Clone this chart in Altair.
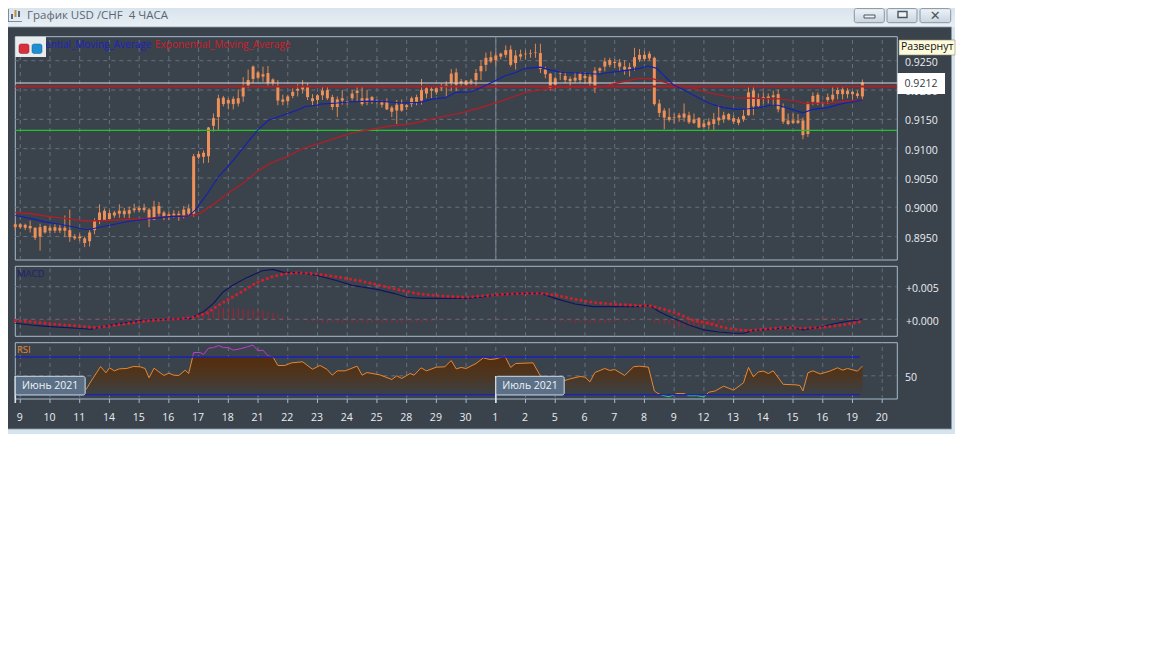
import altair as alt
import pandas as pd

# ---------- data ----------
# candles, prices in 0.0001 units
candle_high = [8973,8973,8972,8977,8966,8972,8969,8968,8971,8971,
 8986,8996,8954,8955,8950,8961,8981,9005,8998,8995,
 8994,9005,8999,9001,9006,9003,9006,8999,9011,9009,
 8994,8992,8995,8994,9002,9005,9091,9096,9097,9137,
 9160,9192,9190,9186,9189,9201,9222,9235,9242,9233,
 9240,9241,9220,9217,9192,9192,9203,9210,9217,9212,9193,9193,
 9206,9206,9192,9189,9200,9182,9200,9205,9205,9200,
 9190,9184,9182,9186,9173,9183,9184,9176,9189,9192,
 9219,9207,9205,9206,9211,9215,9236,9237,9219,9217,
 9219,9236,9251,9264,9266,9264,9264,9276,9276,9268,
 9269,9268,9269,9279,9279,9240,9229,9223,
 9232,9230,9223,9230,9230,9230,9229,9239,9239,9255,
 9255,9253,9253,9251,9246,9272,9270,
 9266,9266,9257,9184,9169,9169,9160,9161,9177,9163,
 9160,9154,9149,9152,9161,9174,9163,9161,9157,9154,
 9166,9205,9205,9194,9196,9194,9199,9201,9177,9160,
 9160,9159,9153,9180,9196,9196,9180,9194,9205,9205,
 9205,9203,9199,9199,9218]
candle_top = [8971,8971,8970,8968,8965,8966,8968,8965,8966,8965,
 8965,8961,8950,8950,8947,8957,8977,8991,8994,8990,
 8991,8994,8994,8995,8998,8999,8999,8996,9001,9002,
 8991,8988,8989,8989,8996,8998,9087,9091,9093,9136,
 9152,9186,9187,9183,9185,9186,9205,9217,9240,9230,
 9227,9229,9218,9206,9184,9189,9197,9202,9207,9207,9186,9191,
 9199,9200,9188,9184,9186,9181,9194,9199,9186,9186,
 9188,9182,9179,9179,9170,9175,9176,9174,9186,9188,
 9200,9203,9202,9203,9205,9209,9228,9230,9215,9216,
 9216,9229,9241,9255,9256,9259,9262,9268,9269,9259,
 9261,9262,9263,9264,9263,9235,9228,9220,
 9229,9224,9219,9221,9228,9224,9223,9233,9237,9249,
 9251,9248,9247,9240,9239,9256,9260,
 9260,9262,9255,9177,9165,9154,9154,9157,9160,9157,
 9150,9152,9143,9146,9150,9153,9157,9159,9152,9150,
 9156,9196,9199,9186,9188,9189,9191,9193,9170,9148,
 9148,9148,9148,9177,9190,9192,9178,9188,9192,9200,
 9201,9199,9197,9194,9213]
candle_bot = [8966,8966,8965,8964,8948,8950,8957,8960,8960,8960,
 8960,8949,8947,8947,8939,8942,8961,8978,8978,8980,
 8986,8989,8988,8989,8995,8995,8995,8978,8979,8989,
 8984,8984,8986,8986,8984,8989,8989,9085,9086,9087,
 9139,9154,9176,9177,9176,9177,9189,9207,9219,9221,
 9223,9212,9212,9182,9180,9181,9190,9199,9201,9188,9181,9183,
 9191,9186,9171,9171,9182,9179,9186,9195,9176,9179,
 9180,9180,9175,9167,9163,9165,9165,9171,9176,9180,
 9182,9194,9199,9196,9203,9206,9212,9209,9211,9209,
 9213,9217,9232,9243,9249,9251,9257,9260,9243,9246,
 9257,9261,9262,9263,9236,9227,9202,9209,
 9228,9217,9215,9216,9217,9220,9212,9203,9233,9240,
 9243,9246,9240,9235,9235,9240,9252,
 9253,9254,9176,9161,9153,9149,9153,9153,9153,9145,
 9144,9136,9137,9140,9142,9148,9150,9150,9146,9144,
 9150,9157,9172,9173,9186,9186,9188,9167,9146,9142,
 9144,9144,9123,9125,9180,9178,9177,9183,9184,9193,
 9193,9193,9193,9190,9189]
candle_low = [8961,8963,8961,8957,8944,8926,8955,8956,8956,8956,
 8949,8941,8944,8942,8932,8933,8954,8971,8977,8978,
 8982,8982,8982,8981,8991,8991,8991,8966,8978,8984,
 8978,8978,8982,8977,8981,8984,8984,9082,9075,9076,
 9129,9132,9172,9167,9167,9172,9180,9203,9212,9218,
 9214,9207,9207,9174,9174,9175,9186,9189,9194,9183,9174,9176,
 9183,9183,9166,9154,9175,9175,9182,9180,9173,9174,
 9176,9176,9170,9166,9154,9142,9163,9166,9171,9174,
 9175,9186,9186,9192,9198,9189,9198,9198,9205,9206,
 9209,9207,9217,9232,9246,9243,9252,9255,9240,9235,
 9252,9252,9255,9255,9229,9220,9199,9202,
 9217,9212,9202,9212,9212,9211,9205,9195,9229,9232,
 9239,9237,9232,9226,9223,9233,9248,
 9249,9250,9173,9154,9133,9146,9143,9146,9146,9142,
 9142,9135,9135,9133,9132,9140,9144,9148,9142,9140,
 9146,9156,9157,9170,9176,9177,9173,9162,9142,9140,
 9142,9142,9116,9120,9174,9174,9172,9176,9180,9184,
 9184,9186,9184,9186,9184]

ema_blue_i = [0,3,6,9,12,14,15,17,20,23,26,28,31,35,36.3,38.6,41,44,47,49,51,54,57,58.5,61,
 61.5,65,68,71.6,75,78,81.7,84,86.8,89,92,94.5,96.5,98.8,101,103,106,108,110.6,114,118,119,121,123.8,126,
 127.8,129.5,130.8,132.8,135,137.6,140.2,143,145.6,148,150.3,152.4,154,156,159,161,164,166.5,169,171]
ema_blue_v = [8986,8981,8975,8971,8966,8962,8962,8966,8971,8976,8979,8981,8984,8985,8995,9021,9052,9080,9112,9132,9148,9157,9166,9172,9174,
 9176,9178,9180,9181,9180,9178,9179,9184,9187,9196,9197,9206,9214,9224,9230,9237,9239,9234,9230,9229,9227,9229,9231,9234,9237,
 9241,9237,9226,9209,9200,9188,9177,9170,9167,9168,9170,9174,9174,9169,9161,9167,9170,9176,9180,9183]
ema_red_i = [0,3.3,6,10,13.7,17,24,26.5,30.6,35,37.2,40,43.3,46,48.7,51.4,54.8,58,61,
 61.5,65,68,72,76,79.7,85,90,93.5,97,100,103,107.3,110,115,119,121.4,126,
 128.8,130.8,132.8,136,139.6,145,149,154.4,157.8,159.4,163,166.5,171]
ema_red_v = [8991,8989,8985,8981,8977,8977,8980,8981,8984,8985,8989,9005,9026,9041,9060,9075,9086,9100,9108,
 9109,9119,9127,9133,9139,9142,9152,9161,9169,9178,9187,9196,9202,9205,9205,9206,9212,9220,
 9219,9214,9209,9205,9196,9187,9186,9185,9181,9177,9178,9180,9183]

macd_i = [0,3.6,7,11.7,15.4,17,20.5,24,26,30.5,35.3,38,40,42,44,46.8,49.9,52,54,57.5,61,
 65,68,73,76.4,79,82,87,91,94,97,102,106,109,113,116.6,122.5,126,
 128,130,132.8,136,139,142,145,147,149,153,156.4,159,163,165.8,168,170.5,171]
macd_v = [-.61,-.92,-1.12,-1.33,-1.53,-1.22,-.71,-.36,-.10,0,.10,1.17,2.45,4.23,5.25,6.43,7.45,7.65,7.24,7.14,6.73,
 5.92,5.2,4.59,3.98,3.37,3.21,3.21,3.21,3.37,3.72,3.98,3.98,3.21,2.35,1.94,1.94,1.94,
 2.14,1.17,.15,-.87,-1.63,-1.94,-2.14,-2.14,-1.73,-1.48,-1.22,-1.63,-1.12,-.61,-.31,-.10,.10]
signal_i = [0,3.6,7,11.7,16,19,24,27,33,36,38.6,40.6,42.6,45.4,48.7,51.4,54,57,61,
 65.5,69.5,73.6,77.6,81.7,86,91,95,98.5,103,106,109.3,113,117,121,126,
 128,131,133.5,137,140,143,146,148,151,155,159,162.4,166.5,169,171]
signal_v = [-.2,-.41,-.71,-.97,-1.28,-1.02,-.51,-.2,.05,.31,.92,1.94,2.86,4.08,5.61,6.43,6.94,7.14,6.94,
 6.43,5.92,5.2,4.49,3.88,3.57,3.37,3.62,3.83,3.98,3.98,3.67,3.06,2.55,2.3,2.09,
 2.09,1.53,.92,-.2,-.61,-1.28,-1.63,-1.73,-1.53,-1.28,-1.38,-1.28,-.92,-.61,-.31]
hist_v = [-.2,-.3,-.3,-.3,-.2,-.3,-.3,-.2,-.3,-.3,-.2,-.3,-.3,-.2,-.2,-.2,
 .1,.2,.2,.3,.3,.2,.3,.2,.2,.2,.2,.1,.1,.1,.1,.1,.1,.1,
 .1,.1,.2,
 .3,.6,1.2,1.4,1.7,1.8,1.8,1.7,1.7,1.6,1.6,1.5,1.5,1.4,1.1,1.0,.7,.5,
 .1,-.1,-.1,-.2,-.3,-.3,
 -.4,-.5,-.5,-.4,-.5,-.5,-.4,-.5,-.5,-.4,-.5,-.5,-.4,-.5,-.5,-.4,-.5,-.5,-.4,-.4,-.4,-.4,-.3,-.3,-.2,
 -.1,-.1,-.1,-.1,-.1,-.1,0,.1,0,0,.1,.1,.1,0,.1,.1,0,0,
 -.1,-.1,-.1,-.1,-.2,-.2,-.3,-.3,
 -.4,-.5,-.5,-.5,-.5,-.5,-.5,-.5,-.4,-.4,-.3,-.3,-.2,-.1,
 -.1,-.1,-.2,
 -.5,-.6,-.7,-.9,-1.1,-1.2,-1.2,-1.1,-1.1,-1.1,-1.0,-1.0,-.9,-.7,-.5,-.4,-.3,-.2,
 -.1,0,0,.1,.1,.1,.1,.2,.1,.2,.1,.1,.1,
 .1,.2,.2,.3,.3,.3,.3,.3,.3,.3,.2,.2]

rsi_i = [14.3,15.2,16.4,17.2,18.3,19,20,21,22.5,23.8,25.2,26.2,27,28,29,30,31,32,33,34.3,35,36,37.3,38,39,40,41,42,43,44,45.4,46.8,48,49,50,51,52,53,54.4,55.8,58,60,
 61.5,62.9,64,65,66.6,69,70,71,73.6,76,77,78,79.7,80.5,81.9,83,85,86.7,88,89,90,91,93,94.5,95.8,97,98.8,100,101,104.5,106,109,110.9,112,114,115,116,117,119,120,121,123,124.8,126,
 127.8,129,129.5,130.5,132,133.5,135,136,137.5,139,140,141.3,143,145,147,148,149,150,151,152,153,155,157.7,158.4,159,160,161,162.5,164.4,166,167,168,170,171]
rsi_v = [35.5,43.6,53.2,59.9,53.2,58.5,55.3,57.4,57.8,59.9,59.6,57.8,47.9,58.1,54.2,50.4,52.8,50.7,50.4,56,52.5,74.8,74.8,72.7,79.4,80,82.2,80,80,77.3,78.7,80.8,82.6,76.6,77.3,71.2,70.2,61,61,63.8,64.9,57,
 61,57,50.7,55.3,55.3,60.3,50.7,53.5,51,46.1,50,47.2,52.5,50.7,58.5,55.3,59.2,59.6,66.3,57.4,58.9,57.8,63.1,69.1,67.3,68,71.2,58.9,63.1,63.8,50,45.4,45,46.8,49.3,48.6,43.6,53.5,57.8,55.7,56.7,50.4,59.6,60.3,
 59.2,34,32,29.5,27.7,31.2,31.2,28.8,29,27.7,32.6,34,39,34.8,42.6,58.9,48.9,54.2,55,52.5,55.3,41,40.4,39.7,34,53.2,55.3,52,55,58.5,56,57.8,55,60.3]

tick_labels = ["9","10","11","14","15","16","17","18","21","22","23","24","25","28","29","30",
               "1","2","5","6","7","8","9","12","13","14","15","16","19","20"]
price_ticks = [9250,9200,9150,9100,9050,9000,8950]
macd_ticks = [5.0, 0.0]
macd_tick_labels = ["+0.005", "+0.000"]
level_white, level_red, level_green = 9212, 9206, 9131

# ---------- look ----------
FONT = "Open Sans"
PANEL = "#3a424c"
BORDER = "#a8bccd"
GRID = "#65717d"
TEXT = "#eaeef2"
P = lambda v: v - 8      # window pixel -> canvas pixel (page margin)

def sx():
    return alt.Scale(domain=[0, 171], range=[P(15.3), P(862.4)])
def X(f="i"):
    return alt.X(f"{f}:Q", scale=sx(), axis=None)

price_scale = lambda: alt.Scale(domain=[0.8910, 0.9291], range=[P(260), P(36.7)], zero=False, nice=False)
macd_scale  = lambda: alt.Scale(domain=[-2.61, 8.13], range=[P(336.3), P(266.3)], zero=False, nice=False)
rsi_scale   = lambda: alt.Scale(domain=[25.4, 85.2], range=[P(399), P(342.7)], zero=False, nice=False)
YP = lambda f="v": alt.Y(f"{f}:Q", scale=price_scale(), axis=None)
YM = lambda f="v": alt.Y(f"{f}:Q", scale=macd_scale(), axis=None)
YR = lambda f="v": alt.Y(f"{f}:Q", scale=rsi_scale(), axis=None)

def box(x0, y0, x1, y1, fill, **kw):
    return alt.Chart().mark_rect(fill=fill, **kw).encode(
        x=alt.value(P(x0)), x2=alt.value(P(x1)), y=alt.value(P(y0)), y2=alt.value(P(y1)))

def label(x, y, s, color=TEXT, size=10.5, align="left", **kw):
    return alt.Chart(pd.DataFrame({"t": [s]})).mark_text(
        font=kw.pop("font", FONT), fontSize=size, color=color, align=align, baseline="middle", **kw
    ).encode(x=alt.value(P(x)), y=alt.value(P(y)), text="t:N")

def vgrad(*stops):
    n = len(stops) - 1
    return alt.Gradient(gradient="linear", x1=0, x2=0, y1=0, y2=1,
                        stops=[alt.GradientStop(color=c, offset=k / n) for k, c in enumerate(stops)])

layers = []

# window chrome
layers += [
    box(0, 0, 955, 434, "#d6e4f0"),
    box(0, 0, 955, 27, vgrad("#d4dfe9", "#e8eff5")),
    box(6, 27, 951.5, 429, PANEL, stroke="#8f9aa5", strokeWidth=0.8),
]
for x0, x1 in [(854.3, 884.3), (887, 917), (920, 950.7)]:
    layers.append(box(x0, 8.6, x1, 22.7, vgrad("#eef2f6", "#c9d4de"), stroke="#8296a8", strokeWidth=1, cornerRadius=2))
layers += [
    box(864, 15, 875, 18, "#eef2f6", stroke="#4a5560", strokeWidth=1),
    box(898, 11.5, 907, 17.5, "#eef2f6", stroke="#4a5560", strokeWidth=1.4),
    label(935.3, 15.5, "✕", color="#4a5560", size=13, align="center", font="DejaVu Sans", fontWeight="bold"),
    box(8, 21, 22, 21.6, "#3d5166"), box(8, 9, 8.6, 21.6, "#3d5166"),
    box(11, 14, 13, 19, "#4a6a80"), box(14.5, 10, 16.5, 17, "#c78a3a"), box(18, 11, 20, 17, "#4a6a80"),
    label(27, 16, "График USD /CHF\u00a0 4 ЧАСА", color="#5a6670", size=11.5),
]

# panels
for y0, y1 in [(36.7, 260), (266.3, 336.3), (342.7, 399)]:
    layers.append(box(15.3, y0, 897.3, y1, PANEL, stroke=BORDER, strokeWidth=1))

# vertical grid inside each panel (day ticks fall every six bars)
ticks = pd.DataFrame({"i": [1 + 6 * k for k in range(len(tick_labels))], "t": tick_labels})
def vgrid(yscale, lo, hi):
    d = ticks.assign(a=lo, b=hi)
    return alt.Chart(d).mark_rule(color=GRID, strokeWidth=1, strokeDash=[4, 4]).encode(
        x=X(), y=alt.Y("a:Q", scale=yscale(), axis=None), y2="b:Q")
layers += [vgrid(price_scale, 0.8910, 0.9291), vgrid(macd_scale, -2.61, 8.13), vgrid(rsi_scale, 25.4, 85.2)]
layers.append(alt.Chart(pd.DataFrame({"i": [97], "a": [0.8910], "b": [0.9291]})).mark_rule(color="#7b8a98", strokeWidth=1).encode(
    x=X(), y=alt.Y("a:Q", scale=price_scale(), axis=None), y2="b:Q"))

def hrule(df, yfn, **kw):
    d = df.assign(i=-0.0, i2=178.0)
    return alt.Chart(d).mark_rule(**kw).encode(x=X(), x2="i2:Q", y=yfn())

hgrid = dict(color=GRID, strokeWidth=1, strokeDash=[4, 4])
layers += [
    hrule(pd.DataFrame({"v": [p / 10000 for p in price_ticks]}), YP, **hgrid),
    hrule(pd.DataFrame({"v": macd_ticks}), YM, **hgrid),
    hrule(pd.DataFrame({"v": [50]}), YR, **hgrid),
]

# candles
cd = pd.DataFrame({
    "i": range(len(candle_high)),
    "h": [v / 10000 for v in candle_high], "l": [v / 10000 for v in candle_low],
    "t": [v / 10000 for v in candle_top], "b": [v / 10000 for v in candle_bot],
})
layers += [
    alt.Chart(cd).mark_rule(color="#dd8a50", strokeWidth=1).encode(x=X(), y=YP("h"), y2="l:Q"),
    alt.Chart(cd).mark_rule(color="#ee9058", strokeWidth=3).encode(x=X(), y=YP("t"), y2="b:Q"),
]

# level lines and moving averages
layers += [
    hrule(pd.DataFrame({"v": [level_white / 10000]}), YP, color="#d5dbe0", strokeWidth=1.2),
    hrule(pd.DataFrame({"v": [level_red / 10000]}), YP, color="#ab2229", strokeWidth=2),
    hrule(pd.DataFrame({"v": [level_green / 10000]}), YP, color="#22c22e", strokeWidth=1.2),
    alt.Chart(pd.DataFrame({"i": ema_red_i, "v": [v / 10000 for v in ema_red_v]})).mark_line(color="#ab2029", strokeWidth=1.4).encode(x=X(), y=YP()),
    alt.Chart(pd.DataFrame({"i": ema_blue_i, "v": [v / 10000 for v in ema_blue_v]})).mark_line(color="#1420b4", strokeWidth=1.1).encode(x=X(), y=YP()),
]

# MACD
layers += [
    alt.Chart(pd.DataFrame({"i": range(len(hist_v)), "h": hist_v, "z": [0.0] * len(hist_v)})).mark_rule(
        color="#a8242f", strokeWidth=1).encode(x=X(), y=YM("h"), y2="z:Q"),
    alt.Chart(pd.DataFrame({"i": macd_i, "v": macd_v})).mark_line(color="#10155e", strokeWidth=1.1).encode(x=X(), y=YM()),
    alt.Chart(pd.DataFrame({"i": signal_i, "v": signal_v})).mark_line(
        color="#d0202e", strokeWidth=3.1, strokeCap="round", strokeDash=[0.01, 4.95]).encode(x=X(), y=YM()),
]

# RSI: filled band, split line
area = pd.DataFrame({"i": rsi_i, "v": [min(max(v, 30), 70) for v in rsi_v], "z": [30] * len(rsi_v)})
layers.append(alt.Chart(area).mark_area(color=vgrad("#552d0c", "#4d3621", "#3b4148")).encode(x=X(), y=YR(), y2="z:Q"))

def zone(v):
    return "hi" if v > 70 else ("lo" if v < 30 else "mid")
rows, seg = [], 0
for k in range(len(rsi_v)):
    x, v = rsi_i[k], rsi_v[k]
    if k:
        x0, v0 = rsi_i[k - 1], rsi_v[k - 1]
        if zone(v0) != zone(v):
            for lv in sorted([30, 70], reverse=v < v0):
                if min(v0, v) < lv < max(v0, v):
                    xc = x0 + (lv - v0) / (v - v0) * (x - x0)
                    rows.append((xc, lv, seg))
                    seg += 1
                    rows.append((xc, lv, seg))
    rows.append((x, v, seg))
seg_df = pd.DataFrame(rows, columns=["i", "v", "seg"])
seg_df["zone"] = seg_df.groupby("seg")["v"].transform(lambda s: "hi" if s.max() > 70 else ("lo" if s.min() < 30 else "mid"))
for z, c in [("mid", "#e8872f"), ("hi", "#c03bd0"), ("lo", "#2fd070")]:
    layers.append(alt.Chart(seg_df[seg_df.zone == z]).mark_line(color=c, strokeWidth=1).encode(
        x=X(), y=YR(), detail="seg:N"))
layers.append(alt.Chart(pd.DataFrame({"v": [70, 30], "i": [0.0, 0.0], "i2": [170.5, 170.5]})).mark_rule(
    color="#1a22b8", strokeWidth=1.4).encode(x=X(), x2="i2:Q", y=YR()))

# axis texts
layers.append(alt.Chart(ticks).mark_rule(color=BORDER, strokeWidth=1).encode(
    x=X(), y=alt.value(P(399)), y2=alt.value(P(403))))
layers.append(alt.Chart(ticks).mark_text(font=FONT, fontSize=10.5, color=TEXT, align="center", baseline="middle", dx=-0.5).encode(
    x=X(), y=alt.value(P(418)), text="t:N"))
layers.append(alt.Chart(pd.DataFrame({"v": [p / 10000 for p in price_ticks], "t": [f"{p / 10000:.4f}" for p in price_ticks]})).mark_text(
    font=FONT, fontSize=10.5, color=TEXT, align="left", baseline="middle", dy=2).encode(
    x=alt.value(P(905)), y=YP(), text="t:N"))
layers.append(alt.Chart(pd.DataFrame({"v": macd_ticks, "t": macd_tick_labels})).mark_text(
    font=FONT, fontSize=10.5, color=TEXT, align="left", baseline="middle", dy=2.5).encode(
    x=alt.value(P(906)), y=YM(), text="t:N"))
layers.append(alt.Chart(pd.DataFrame({"v": [50], "t": ["50"]})).mark_text(
    font=FONT, fontSize=10.5, color=TEXT, align="left", baseline="middle", dy=2).encode(
    x=alt.value(P(905)), y=YR(), text="t:N"))

# current price box, tooltip, panel titles, legend
layers += [
    box(897.5, 73, 945, 94, "#ffffff"),
    label(921, 83.5, "0.9212", color="#333a42", align="center"),
    box(899, 40, 955, 55, "#fdfbdc", stroke="#8a8a70", strokeWidth=0.6),
    label(901, 47, "Развернут", color="#111111", size=10.5),
    label(17, 274, "MACD", color="#1b2470", size=9.5),
    label(17, 350, "RSI", color="#e8872f", size=9.5),
    label(16, 44.5, "Exponential_Moving_Average", color="#1a22c0", size=10),
    label(155, 44.5, "Exponential_Moving_Average", color="#d0202a", size=10),
    box(15.3, 36.7, 46, 57, "#e8ecef"),
    box(19, 44, 29, 53.5, "#d8303a", cornerRadius=2, stroke="#8c1c22", strokeWidth=0.5),
    box(32, 44, 42, 53.5, "#1e8fd2", cornerRadius=2, stroke="#145f8e", strokeWidth=0.5),
]

# month flags
months = pd.DataFrame({"i": [0, 97], "i2": [14.1, 110.8], "m": [7.05, 103.9], "t": ["Июнь 2021", "Июль 2021"]})
layers += [
    alt.Chart(months).mark_rule(color="#d7e6ee", strokeWidth=1.6).encode(
        x=X(), y=alt.value(P(376)), y2=alt.value(P(403))),
    alt.Chart(months).mark_rect(fill="#5b7086", stroke="#cfdbe4", strokeWidth=1, cornerRadius=2).encode(
        x=X(), x2="i2:Q", y=alt.value(P(376.3)), y2=alt.value(P(395))),
    alt.Chart(months).mark_text(font=FONT, fontSize=10.5, color="#eef2f5", align="center", baseline="middle").encode(
        x=X("m"), y=alt.value(P(386)), text="t:N"),
]

chart = alt.layer(*layers).resolve_scale(y="independent", x="shared").properties(
    width=1136, height=630, padding=0, autosize=alt.AutoSizeParams(type="none"), background="#ffffff"
).configure_view(stroke=None)

chart.save("out.html", embed_options={"renderer": "svg", "actions": False})
